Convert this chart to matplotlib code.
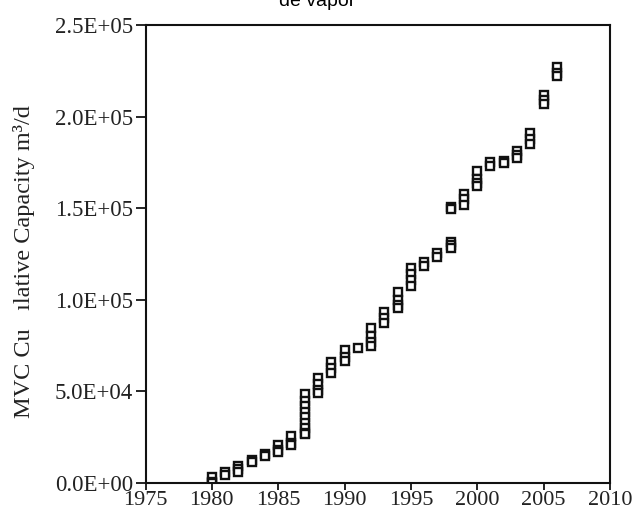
import numpy as np
import matplotlib
matplotlib.use("Agg")
import matplotlib.pyplot as plt
from matplotlib.ticker import FuncFormatter

# cumulative capacity readings, several plants per year (m3/d)
years = [1980, 1980, 1980,
         1981, 1981,
         1982, 1982, 1982,
         1983, 1983,
         1984, 1984,
         1985, 1985, 1985,
         1986, 1986, 1986,
         1987, 1987, 1987, 1987, 1987, 1987, 1987, 1987, 1987,
         1988, 1988, 1988, 1988,
         1989, 1989, 1989,
         1990, 1990, 1990,
         1991,
         1992, 1992, 1992, 1992,
         1993, 1993, 1993,
         1994, 1994, 1994, 1994,
         1995, 1995, 1995, 1995,
         1996, 1996,
         1997, 1997,
         1998, 1998, 1998, 1998, 1998,
         1999, 1999, 1999,
         2000, 2000, 2000, 2000,
         2001, 2001,
         2002, 2002,
         2003, 2003, 2003,
         2004, 2004, 2004,
         2005, 2005, 2005,
         2006, 2006, 2006]
capacity = [3000, 500, 0,
            6000, 4500,
            9500, 7500, 6000,
            12500, 11500,
            16000, 14500,
            20500, 18000, 17000,
            25500, 22000, 21000,
            48500, 45000, 42000, 39000, 36000, 33000, 30000, 27500, 26500,
            57500, 54000, 51000, 49000,
            66000, 62500, 60000,
            72500, 69000, 66500,
            73500,
            84500, 80000, 77000, 75000,
            93500, 90000, 87500,
            104500, 100000, 97000, 95500,
            117500, 114000, 111000, 107500,
            120500, 118500,
            125500, 123500,
            150500, 149500, 131500, 130000, 128500,
            158000, 155000, 152000,
            170500, 166000, 164000, 162000,
            175000, 173000,
            175500, 174500,
            181000, 179000, 177500,
            191000, 188000, 185000,
            212000, 209000, 207000,
            227000, 224000, 222000]

xticks = [1975, 1980, 1985, 1990, 1995, 2000, 2005, 2010]
yticks = [0, 5e4, 1e5, 1.5e5, 2e5, 2.5e5]

serif = ['Liberation Serif', 'DejaVu Serif']

fig = plt.figure(figsize=(6.34, 5.17), dpi=100)
ax = fig.add_axes([0.2295, 0.0658, 0.7325, 0.8858])

ax.plot(years, capacity, linestyle='none', marker='s', markersize=6.3,
        markerfacecolor='white', markeredgecolor='#111111', markeredgewidth=1.7)

ax.set_xlim(1975, 2010)
ax.set_ylim(0, 2.5e5)
ax.set_xticks(xticks)
ax.set_yticks(yticks)
ax.yaxis.set_major_formatter(FuncFormatter(lambda v, p: f"{v:.1E}"))

for lab in ax.get_xticklabels():
    lab.set_family(serif)
    lab.set_fontsize(16)
    lab.set_color('#222222')
for lab in ax.get_yticklabels():
    lab.set_family(serif)
    lab.set_fontsize(16.5)
    lab.set_color('#222222')
ax.tick_params(axis='y', direction='out', length=7, width=1.2, pad=2)
ax.tick_params(axis='x', direction='out', length=5, width=1.2, pad=1)
for s in ax.spines.values():
    s.set_linewidth(1.5)
    s.set_color('#111111')

ax.set_ylabel("MVC Cu   \u0131lative Capacity m\u00b3/d", family=serif,
              fontsize=17.5, color='#222222')
ax.yaxis.set_label_coords(-0.238, 0.484)

# title is cut off at the top of the image
fig.text(0.5, 0.988, "de vapor", ha='center', va='baseline',
         fontsize=14, family=['Liberation Sans', 'DejaVu Sans'])

fig.savefig("out.png", dpi=100)
